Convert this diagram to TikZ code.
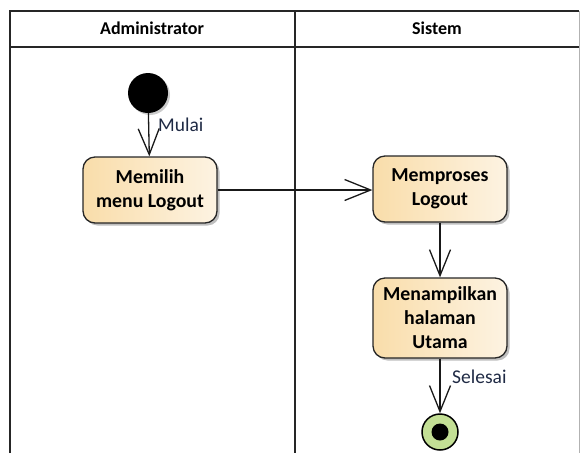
\documentclass[tikz,border=0pt]{standalone}
\usepackage{fontspec}
\setmainfont{Carlito}
\usetikzlibrary{arrows.meta,shadows}
\definecolor{actL}{HTML}{F9DDAA}
\definecolor{actR}{HTML}{FDF3E2}
\definecolor{endG}{HTML}{C3DF95}
\definecolor{lblC}{HTML}{1F2A44}
\tikzset{
  action/.style={draw=black!85, line width=1.3pt, rounded corners=12pt,
    left color=actL, right color=actR, minimum width=134pt, align=center,
    font=\fontsize{19.8}{24}\selectfont\bfseries,
    drop shadow={shadow xshift=2.5pt, shadow yshift=-2.5pt, opacity=0.25, fill=black}},
  flow/.style={draw=black!90, line width=1.3pt,
    -{Straight Barb[length=26pt,width=21pt,line width=1.3pt]}},
  lane/.style={draw=black!85, line width=2pt},
  lbl/.style={font=\fontsize{19.5}{22}\selectfont, text=lblC, inner sep=0pt},
  head/.style={font=\fontsize{18}{20}\selectfont\bfseries},
}
\begin{document}
\begin{tikzpicture}[x=1pt, y=-1pt]
  \useasboundingbox (0,0) rectangle (580,453);

  % swimlane frame
  \draw[black!30, line width=1pt] (579,11) -- (579,453);
  \draw[lane] (10,453) -- (10,11) -- (579,11);
  \draw[lane] (10,47) -- (579,47);
  \draw[lane] (295,11) -- (295,453);
  \node[head] (hAdmin) at (152,28) {Administrator};
  \node[head] (hSys) at (437,28) {Sistem};

  % start and end
  \node[circle, fill=black, minimum size=40pt, inner sep=0pt,
        drop shadow={shadow xshift=2pt, shadow yshift=-2pt, opacity=0.2, fill=black}] (start) at (148,93) {};
  \node[circle, draw=black, line width=1.5pt, fill=endG, minimum size=36pt, inner sep=0pt] (finish) at (440,432) {};
  \node[circle, fill=black, minimum size=17pt, inner sep=0pt] (finishDot) at (finish) {};

  % actions
  \node[action, minimum height=66pt] (choose) at (150,190) {Memilih\\menu Logout};
  \node[action, minimum height=66pt] (process) at (440,189) {Memproses\\Logout};
  \node[action, minimum height=80pt] (show) at (440,318) {Menampilkan\\halaman\\Utama};

  % flows
  \draw[flow] (start) -- (choose);
  \node[lbl, anchor=west] (lStart) at (158,125) {Mulai};
  \draw[flow] (choose.east) -- (choose.east -| process.west);
  \draw[flow] (process) -- (show);
  \draw[flow] (show) -- (finish);
  \node[lbl, anchor=west] (lEnd) at (452,377) {Selesai};
\end{tikzpicture}
\end{document}
